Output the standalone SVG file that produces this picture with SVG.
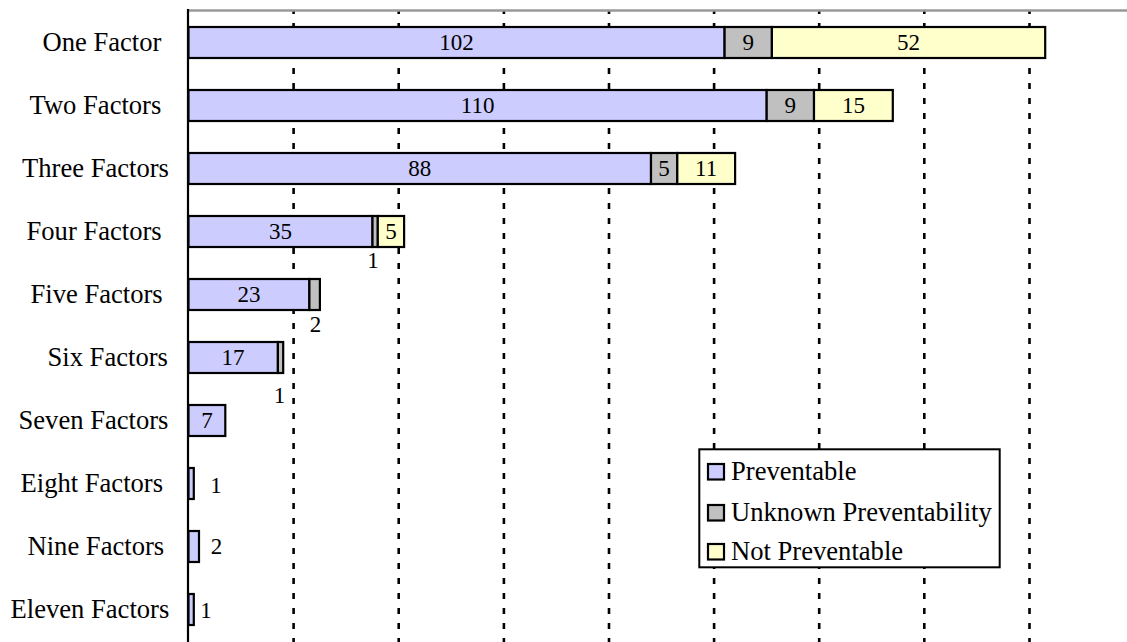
<svg xmlns="http://www.w3.org/2000/svg" width="1127" height="642" viewBox="0 0 1127 642">
<style>
.grid{stroke:#000;stroke-width:2.6;stroke-dasharray:6 9;stroke-dashoffset:3;fill:none}
.p{fill:#ccccff;stroke:#000;stroke-width:2.2}
.u{fill:#c0c0c0;stroke:#000;stroke-width:2.2}
.n{fill:#ffffcc;stroke:#000;stroke-width:2.2}
.num{text-anchor:middle}
</style>
<rect x="0" y="0" width="1127" height="642" fill="#ffffff"/>
<g id="gridlines">
<line class="grid" x1="293.6" y1="11" x2="293.6" y2="642"/>
<line class="grid" x1="398.7" y1="11" x2="398.7" y2="642"/>
<line class="grid" x1="503.9" y1="11" x2="503.9" y2="642"/>
<line class="grid" x1="609.0" y1="11" x2="609.0" y2="642"/>
<line class="grid" x1="714.1" y1="11" x2="714.1" y2="642"/>
<line class="grid" x1="819.2" y1="11" x2="819.2" y2="642"/>
<line class="grid" x1="924.3" y1="11" x2="924.3" y2="642"/>
<line class="grid" x1="1029.5" y1="11" x2="1029.5" y2="642"/>
</g>
<g id="axes">
<line x1="187" y1="10.5" x2="1127" y2="10.5" stroke="#999999" stroke-width="2.5"/>
<line x1="188" y1="9" x2="188" y2="642" stroke="#000" stroke-width="2.2"/>
</g>
<g id="labels" font-family="Liberation Serif, serif" font-size="26.6" fill="#000">
<text x="42.5" y="51">One Factor</text>
<text x="29.5" y="114">Two Factors</text>
<text x="22" y="177">Three Factors</text>
<text x="26.5" y="240">Four Factors</text>
<text x="30.5" y="303">Five Factors</text>
<text x="47.5" y="366">Six Factors</text>
<text x="18.5" y="429">Seven Factors</text>
<text x="20.5" y="492">Eight Factors</text>
<text x="27.5" y="555">Nine Factors</text>
<text x="10.5" y="618">Eleven Factors</text>
</g>
<g id="bars" font-family="Liberation Serif, serif" font-size="23" fill="#000">
<g id="bar-one">
<rect class="p" x="188.5" y="27" width="536.1" height="31"/>
<rect class="u" x="724.6" y="27" width="47.3" height="31"/>
<rect class="n" x="771.9" y="27" width="273.3" height="31"/>
<text class="num" x="456.5" y="50">102</text>
<text class="num" x="748.2" y="50">9</text>
<text class="num" x="908.5" y="50">52</text>
</g>
<g id="bar-two">
<rect class="p" x="188.5" y="90" width="578.2" height="31"/>
<rect class="u" x="766.7" y="90" width="47.3" height="31"/>
<rect class="n" x="814.0" y="90" width="78.8" height="31"/>
<text class="num" x="477.6" y="113">110</text>
<text class="num" x="790.3" y="113">9</text>
<text class="num" x="853.4" y="113">15</text>
</g>
<g id="bar-three">
<rect class="p" x="188.5" y="153" width="462.5" height="31"/>
<rect class="u" x="651.0" y="153" width="26.3" height="31"/>
<rect class="n" x="677.3" y="153" width="57.8" height="31"/>
<text class="num" x="419.7" y="176">88</text>
<text class="num" x="664.1" y="176">5</text>
<text class="num" x="706.2" y="176">11</text>
</g>
<g id="bar-four">
<rect class="p" x="188.5" y="216" width="184.0" height="31"/>
<rect class="u" x="372.5" y="216" width="5.3" height="31"/>
<rect class="n" x="377.8" y="216" width="26.3" height="31"/>
<text class="num" x="280.5" y="239">35</text>
<text class="num" x="391" y="239">5</text>
<text class="num" x="373" y="268">1</text>
</g>
<g id="bar-five">
<rect class="p" x="188.5" y="279" width="120.9" height="31"/>
<rect class="u" x="309.4" y="279" width="10.5" height="31"/>
<text class="num" x="249" y="302">23</text>
<text class="num" x="315.5" y="332">2</text>
</g>
<g id="bar-six">
<rect class="p" x="188.5" y="342" width="89.4" height="31"/>
<rect class="u" x="277.9" y="342" width="5.3" height="31"/>
<text class="num" x="233" y="365">17</text>
<text class="num" x="279.5" y="403">1</text>
</g>
<g id="bar-seven">
<rect class="p" x="188.5" y="405" width="36.8" height="31"/>
<text class="num" x="206.9" y="428">7</text>
</g>
<g id="bar-eight">
<rect class="p" x="188.5" y="468" width="5.3" height="31"/>
<text class="num" x="216" y="493">1</text>
</g>
<g id="bar-nine">
<rect class="p" x="188.5" y="531" width="10.5" height="31"/>
<text class="num" x="216.5" y="554">2</text>
</g>
<g id="bar-eleven">
<rect class="p" x="188.5" y="594" width="5.3" height="31"/>
<text class="num" x="206" y="618">1</text>
</g>
</g>
<g id="legend" font-family="Liberation Serif, serif" font-size="26.6" fill="#000">
<rect x="699.3" y="449.3" width="300.4" height="118" fill="#ffffff" stroke="#000" stroke-width="2"/>
<rect class="p" x="708" y="464" width="16" height="15.5"/>
<text x="731" y="479.5">Preventable</text>
<rect class="u" x="708" y="505" width="16" height="15.5"/>
<text x="731" y="520.5">Unknown Preventability</text>
<rect class="n" x="708" y="544" width="16" height="15.5"/>
<text x="731" y="560">Not Preventable</text>
</g>
</svg>
